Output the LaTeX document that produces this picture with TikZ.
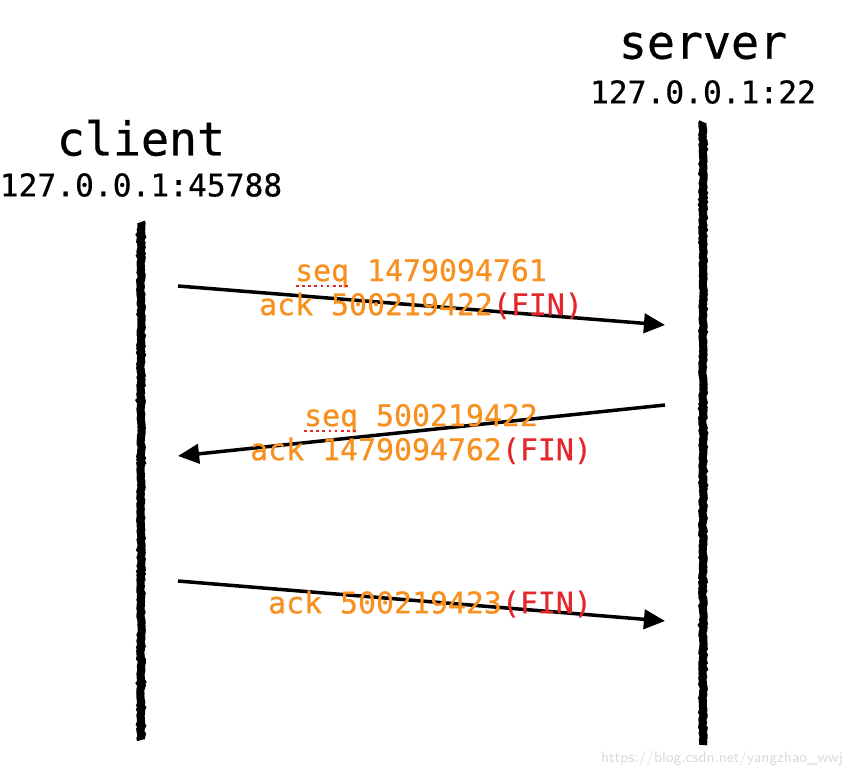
\documentclass[tikz,border=0pt]{standalone}
\usepackage{fontspec}
\newfontfamily\monofont[FakeBold=0.6]{DejaVu Sans Mono}
\usetikzlibrary{arrows.meta,decorations.pathmorphing}
\definecolor{seqorange}{HTML}{F7901E}
\definecolor{finred}{HTML}{E3272B}
\tikzset{
  hostname/.style={font=\monofont\fontsize{26.5}{30}\selectfont},
  hostaddr/.style={font=\monofont\fontsize{17.8}{20}\selectfont},
  lifeline/.style={line width=4.6pt,decorate,decoration={random steps,segment length=1.2pt,amplitude=0.45pt}},
  msg/.style={line width=2pt,-{Triangle[length=12pt,width=11pt]}},
  msglabel/.style={font=\monofont\fontsize{17}{19.4}\selectfont,text=seqorange,align=center},
  spell/.style={finred,dotted,line width=1.5pt}
}
\newcommand{\fin}{\textcolor{finred}{(FIN)}}
\begin{document}
\begin{tikzpicture}[x=0.02cm,y=-0.02cm]
            \useasboundingbox (0,0) rectangle (854,778);
            \node[hostname] (client) at (141,138) {client};
            \node[hostaddr] (caddr) at (141,185) {127.0.0.1:45788};
            \node[hostname] (server) at (703,46) {server};
            \node[hostaddr] (saddr) at (703,92) {127.0.0.1:22};
            \draw[lifeline] (141,222) coordinate (ctop) -- (141,740) coordinate (cbot);
            \draw[lifeline] (703,122) coordinate (stop) -- (703,745) coordinate (sbot);
            % fin from client
            \coordinate (c1) at (178,286); \coordinate (s1) at (665,325);
            \draw[msg] (c1) -- (s1);
            \node[msglabel] (lab1) at (421,289) {seq 1479094761\\ack 500219422\fin};
            \draw[spell] (296,286) -- (348,286);
            % fin from server
            \coordinate (s2) at (665,405); \coordinate (c2) at (178,456);
            \draw[msg] (s2) -- (c2);
            \node[msglabel] (lab2) at (421,434) {seq 500219422\\ack 1479094762\fin};
            \draw[spell] (304,431) -- (356,431);
            % last ack
            \coordinate (c3) at (178,581); \coordinate (s3) at (665,621);
            \draw[msg] (c3) -- (s3);
            \node[msglabel] (lab3) at (430,604) {ack 500219423\fin};
            \node[text=black!15,font=\fontsize{8.6}{10}\sffamily] (mark) at (722,759) {https://blog.csdn.net/yangzhao\_wwj};
        \end{tikzpicture}
\end{document}
